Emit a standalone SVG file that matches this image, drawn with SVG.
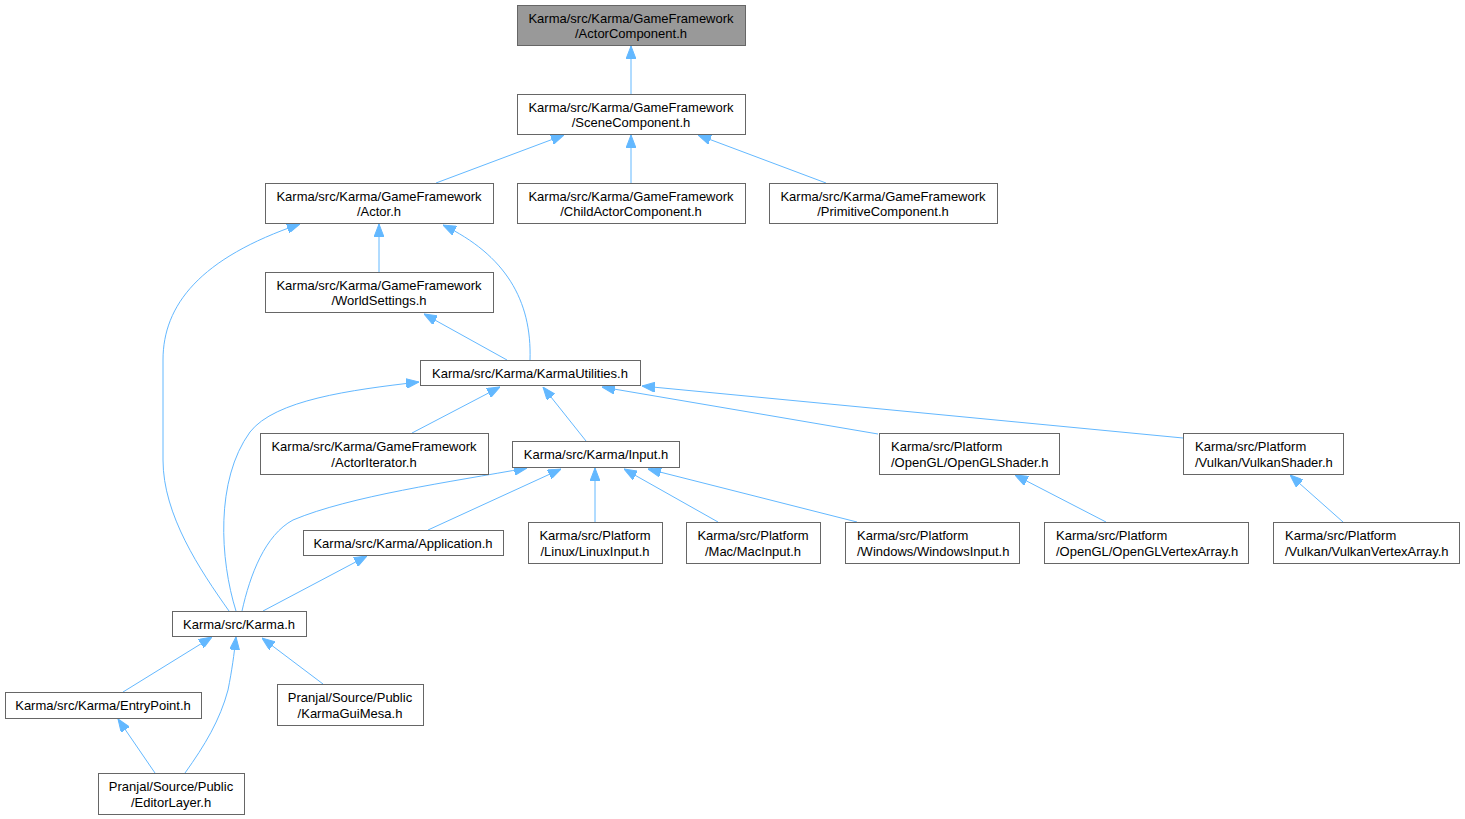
<svg xmlns="http://www.w3.org/2000/svg" width="1465" height="819" viewBox="0 0 1465 819">
<style>
  .box{fill:#ffffff;stroke:#666666;stroke-width:1}
  .hl{fill:#999999;stroke:#666666;stroke-width:1}
  text{font-family:"Liberation Sans",Arial,Helvetica,sans-serif;font-size:13px;fill:#000000}
  .c{text-anchor:middle}
  .l{text-anchor:start}
  .e{fill:none;stroke:#63b8ff;stroke-width:1;marker-end:url(#ah)}
</style>
<defs>
  <marker id="ah" viewBox="0 0 13 10" refX="13" refY="5" markerWidth="13" markerHeight="10" markerUnits="userSpaceOnUse" orient="auto">
    <path d="M0,0 L13,5 L0,10 z" fill="#63b8ff" stroke="#63b8ff" stroke-width="1"/>
  </marker>
</defs>
<rect width="1465" height="819" fill="#ffffff"/>
<g id="edges">
  <path class="e" d="M631,94 L631,46"/>
  <path class="e" d="M436,183 L564,135"/>
  <path class="e" d="M631,183 L631,135"/>
  <path class="e" d="M826,183 L698,135"/>
  <path class="e" d="M379,272 L379,224"/>
  <path class="e" d="M530,360 C532,300 505,255 443,225"/>
  <path class="e" d="M507,360 L424,314"/>
  <path class="e" d="M229,611 C200,570 163,515 163,460 L163,360 C163,305 200,258 300,224"/>
  <path class="e" d="M236,611 C220,560 215,480 250,432 C275,400 350,390 419,382"/>
  <path class="e" d="M412,433 L500,387"/>
  <path class="e" d="M586,441 L543,387"/>
  <path class="e" d="M878,434 L602,387"/>
  <path class="e" d="M1183,438 L642,386"/>
  <path class="e" d="M242,611 C250,575 265,535 293,520 C350,496 450,482 527,468"/>
  <path class="e" d="M428,530 L561,469"/>
  <path class="e" d="M595,522 L595,468"/>
  <path class="e" d="M718,522 L624,469"/>
  <path class="e" d="M857,522 L648,469"/>
  <path class="e" d="M1106,522 L1015,475"/>
  <path class="e" d="M1343,522 L1290,475"/>
  <path class="e" d="M263,611 L367,556"/>
  <path class="e" d="M123,692 L212,637"/>
  <path class="e" d="M185,773 C205,745 220,720 228,690 C232,670 234,655 236,637"/>
  <path class="e" d="M323,684 L262,638"/>
  <path class="e" d="M155,773 L118,719"/>
</g>
<g id="n1"><rect class="hl" x="517.5" y="5.5" width="228" height="40"/><text class="c" x="631" y="23">Karma/src/Karma/GameFramework</text><text class="c" x="631" y="38">/ActorComponent.h</text></g>
<g id="n2"><rect class="box" x="517.5" y="94.5" width="228" height="40"/><text class="c" x="631" y="112">Karma/src/Karma/GameFramework</text><text class="c" x="631" y="127">/SceneComponent.h</text></g>
<g id="n3"><rect class="box" x="265.5" y="183.5" width="228" height="40"/><text class="c" x="379" y="201">Karma/src/Karma/GameFramework</text><text class="c" x="379" y="216">/Actor.h</text></g>
<g id="n4"><rect class="box" x="517.5" y="183.5" width="228" height="40"/><text class="c" x="631" y="201">Karma/src/Karma/GameFramework</text><text class="c" x="631" y="216">/ChildActorComponent.h</text></g>
<g id="n5"><rect class="box" x="769.5" y="183.5" width="228" height="40"/><text class="c" x="883" y="201">Karma/src/Karma/GameFramework</text><text class="c" x="883" y="216">/PrimitiveComponent.h</text></g>
<g id="n6"><rect class="box" x="265.5" y="272.5" width="228" height="40"/><text class="c" x="379" y="290">Karma/src/Karma/GameFramework</text><text class="c" x="379" y="305">/WorldSettings.h</text></g>
<g id="n7"><rect class="box" x="420.5" y="360.5" width="220" height="25"/><text class="c" x="530" y="378">Karma/src/Karma/KarmaUtilities.h</text></g>
<g id="n8"><rect class="box" x="260.5" y="433.5" width="228" height="41"/><text class="c" x="374" y="451">Karma/src/Karma/GameFramework</text><text class="c" x="374" y="467">/ActorIterator.h</text></g>
<g id="n9"><rect class="box" x="512.5" y="441.5" width="167" height="26"/><text class="c" x="596" y="459">Karma/src/Karma/Input.h</text></g>
<g id="n10"><rect class="box" x="879.5" y="433.5" width="180" height="41"/><text class="l" x="891" y="451">Karma/src/Platform</text><text class="l" x="891" y="467">/OpenGL/OpenGLShader.h</text></g>
<g id="n11"><rect class="box" x="1183.5" y="433.5" width="160" height="41"/><text class="l" x="1195" y="451">Karma/src/Platform</text><text class="l" x="1195" y="467">/Vulkan/VulkanShader.h</text></g>
<g id="n12"><rect class="box" x="303.5" y="530.5" width="200" height="25"/><text class="c" x="403" y="548">Karma/src/Karma/Application.h</text></g>
<g id="n13"><rect class="box" x="528.5" y="522.5" width="134" height="41"/><text class="c" x="595" y="540">Karma/src/Platform</text><text class="c" x="595" y="556">/Linux/LinuxInput.h</text></g>
<g id="n14"><rect class="box" x="686.5" y="522.5" width="134" height="41"/><text class="c" x="753" y="540">Karma/src/Platform</text><text class="c" x="753" y="556">/Mac/MacInput.h</text></g>
<g id="n15"><rect class="box" x="845.5" y="522.5" width="174" height="41"/><text class="l" x="857" y="540">Karma/src/Platform</text><text class="l" x="857" y="556">/Windows/WindowsInput.h</text></g>
<g id="n16"><rect class="box" x="1044.5" y="522.5" width="204" height="41"/><text class="l" x="1056" y="540">Karma/src/Platform</text><text class="l" x="1056" y="556">/OpenGL/OpenGLVertexArray.h</text></g>
<g id="n17"><rect class="box" x="1273.5" y="522.5" width="186" height="41"/><text class="l" x="1285" y="540">Karma/src/Platform</text><text class="l" x="1285" y="556">/Vulkan/VulkanVertexArray.h</text></g>
<g id="n18"><rect class="box" x="172.5" y="611.5" width="134" height="25"/><text class="c" x="239" y="629">Karma/src/Karma.h</text></g>
<g id="n19"><rect class="box" x="5.5" y="692.5" width="196" height="26"/><text class="c" x="103" y="710">Karma/src/Karma/EntryPoint.h</text></g>
<g id="n20"><rect class="box" x="277.5" y="684.5" width="146" height="41"/><text class="c" x="350" y="702">Pranjal/Source/Public</text><text class="c" x="350" y="718">/KarmaGuiMesa.h</text></g>
<g id="n21"><rect class="box" x="98.5" y="773.5" width="146" height="41"/><text class="c" x="171" y="791">Pranjal/Source/Public</text><text class="c" x="171" y="807">/EditorLayer.h</text></g>
</svg>
